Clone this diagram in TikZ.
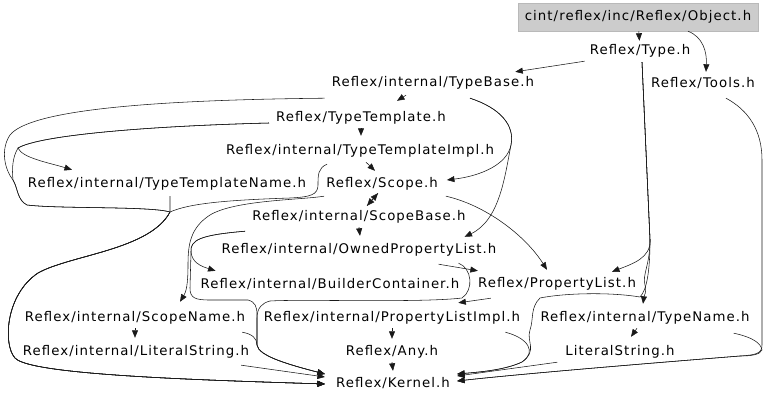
\documentclass[tikz,border=0pt]{standalone}
\usepackage{fontspec}
\setmainfont{DejaVu Sans}[LetterSpace=8]
\usetikzlibrary{arrows.meta,calc}

\tikzset{
  file/.style={inner xsep=5pt, inner ysep=0pt, minimum height=20pt, font=\fontsize{13.3}{16}\selectfont},
  root/.style={file, fill=gray!40, draw=gray!55, minimum height=28pt, inner xsep=7pt},
  dep/.style={->, line width=0.55pt, black!90},
}

\begin{document}
\begin{tikzpicture}[x=1pt, y=-1pt, >={Triangle[length=7.5pt,width=6pt]}]
\useasboundingbox (0,0) rectangle (768,401);
% files, one rank per row
\node[root] (obj) at (638,17) {cint/reflex/inc/Reflex/Object.h};
\node[file] (type) at (640,51) {Reflex/Type.h};
\node[file] (typebase) at (433,83) {Reflex/internal/TypeBase.h};
\node[file] (tools) at (703,83) {Reflex/Tools.h};
\node[file] (ttemplate) at (361,118) {Reflex/TypeTemplate.h};
\node[file] (ttimpl) at (360,151) {Reflex/internal/TypeTemplateImpl.h};
\node[file] (ttname) at (167,184) {Reflex/internal/TypeTemplateName.h};
\node[file] (scope) at (382,184) {Reflex/Scope.h};
\node[file] (scopebase) at (359,217) {Reflex/internal/ScopeBase.h};
\node[file] (ownedpl) at (359,250) {Reflex/internal/OwnedPropertyList.h};
\node[file] (builder) at (330,284) {Reflex/internal/BuilderContainer.h};
\node[file] (proplist) at (557,284) {Reflex/PropertyList.h};
\node[file] (scopename) at (135,318) {Reflex/internal/ScopeName.h};
\node[file] (plimpl) at (392,318) {Reflex/internal/PropertyListImpl.h};
\node[file] (typename) at (645,318) {Reflex/internal/TypeName.h};
\node[file] (litstrint) at (136,352) {Reflex/internal/LiteralString.h};
\node[file] (any) at (392,352) {Reflex/Any.h};
\node[file] (litstr) at (620,352) {LiteralString.h};
\node[file] (kernel) at (393,383) {Reflex/Kernel.h};

% short ones
\draw[dep] (obj) -- (type);
\draw[dep] ($(obj.south)+(50,0)$) .. controls (703,37) and (707,52) .. ($(tools.north)+(3,-1)$);
\draw[dep] (type.south west) -- ($(typebase.north east)+(-24,-1)$);
\draw[dep] ($(typebase.south)+(-27,2)$) -- ($(ttemplate.north)+(36,-7)$);
\draw[dep] (ttemplate.south) -- ($(ttimpl.north)+(1,-5)$);
\draw[dep] ($(ttimpl.south)+(6,1)$) -- ($(scope.north)+(-7,-3)$);
\draw[dep] ($(scope.south)+(-4,-1)$) -- ($(scopebase.north)+(8,-1)$);
\draw[dep] ($(scopebase.north)+(8,-1)$) -- ($(scope.south)+(-4,-1)$);
\draw[dep] (scopebase.south) -- ($(ownedpl.north)+(1,-4)$);
\draw[dep] (plimpl.south) -- ($(any.north)+(0,-3)$);
\draw[dep] (any.south) -- ($(kernel.north)+(0,-2)$);
\draw[dep] (scopename.south) -- ($(litstrint.north)+(-1,-4)$);
\draw[dep] ($(typename.south)+(-8,0)$) -- ($(litstr.north)+(11,-5)$);
\draw[dep] ($(ownedpl.south east)+(-63,4)$) -- ($(proplist.north west)+(5,-3)$);
\draw[dep] ($(proplist.south west)+(18,4)$) -- ($(plimpl.north east)+(-67,-5)$);

% down the right side
\draw[dep] ($(type.south)+(2,1)$) -- (650,240) .. controls (651,258) and (632,264) .. ($(proplist.north)+(55,-2)$);
\draw[dep] ($(type.south)+(2,1)$) -- (650,240) .. controls (650,265) and (642,275) .. (645,285) .. controls (647,292) and (644,296) .. ($(typename.north)+(-2,-4)$);
\draw[dep] ($(type.south)+(2,1)$) -- (650,240) .. controls (650,270) and (647,290) .. (640,297) .. controls (610,292) and (565,293) .. (540,298) .. controls (530,308) and (534,318) .. (530,330) .. controls (526,342) and (538,350) .. (522,362) .. controls (505,370) and (480,372) .. ($(kernel.east)+(2,-9)$);
\draw[dep] ($(tools.south)+(23,5)$) .. controls (748,110) and (762,130) .. (762,160) -- (762,345) .. controls (762,353) and (757,355) .. (740,356) .. controls (640,364) and (520,374) .. ($(kernel.east)+(2,-2)$);
\draw[dep] ($(typename.south east)+(-21,5)$) .. controls (752,337) and (761,343) .. (762,350) .. controls (760,355) and (750,356) .. (740,356) .. controls (640,364) and (520,374) .. ($(kernel.east)+(2,-2)$);
\draw[dep] ($(litstr.south west)+(-3,0)$) -- ($(kernel.east)+(2,-7)$);
\draw[dep] ($(plimpl.south east)+(-20,4)$) .. controls (528,338) and (537,352) .. (522,362) .. controls (505,370) and (480,372) .. ($(kernel.east)+(2,-9)$);

% middle
\draw[dep] ($(typebase.south)+(37,5)$) .. controls (500,108) and (515,125) .. (511,145) .. controls (507,165) and (480,176) .. ($(scope.east)+(4,-4)$);
\draw[dep] ($(typebase.south)+(37,5)$) .. controls (500,108) and (515,125) .. (511,145) .. controls (505,175) and (500,220) .. ($(ownedpl.north east)+(-37,-3)$);
\draw[dep] ($(scope.south east)+(3,2)$) .. controls (485,205) and (525,235) .. ($(proplist.north)+(-10,-4)$);
\draw[dep] ($(scope.south west)+(3,2)$) .. controls (300,200) and (235,200) .. (210,215) .. controls (190,228) and (188,245) .. (188,265) .. controls (188,285) and (186,292) .. ($(scopename.north)+(45,-6)$);
\draw[dep] ($(scopebase.south west)+(-2,4)$) .. controls (200,235) and (190,240) .. (191,252) .. controls (192,262) and (200,266) .. ($(builder.north west)+(20,-3)$);
\draw[dep] ($(scopebase.south west)+(-2,4)$) .. controls (200,235) and (190,240) .. (191,252) -- (190,288) .. controls (190,298) and (195,300) .. (210,300) -- (248,300) .. controls (255,302) and (257,306) .. (257,315) -- (257,345) .. controls (258,356) and (290,365) .. ($(kernel.west)+(-6,-9)$);
\draw[dep] ($(ownedpl.south east)+(-43,3)$) .. controls (472,268) and (474,290) .. (462,298) .. controls (420,303) and (300,299) .. (270,301) .. controls (262,303) and (257,308) .. (257,318) -- (257,345) .. controls (258,356) and (290,365) .. ($(kernel.west)+(-6,-9)$);
\draw[dep] ($(scopename.south east)+(-8,4)$) .. controls (252,334) and (257,338) .. (257,345) .. controls (258,356) and (290,365) .. ($(kernel.west)+(-6,-9)$);
\draw[dep] ($(litstrint.south east)+(-13,3)$) -- ($(kernel.west)+(-6,-6)$);

% round the left side
\draw[dep] ($(ttemplate.west)+(-2,5)$) .. controls (150,126) and (40,135) .. (18,148) .. controls (22,158) and (50,163) .. ($(ttname.north)+(-95,-4)$);
\draw[dep] ($(typebase.south west)+(-2,5)$) .. controls (150,100) and (30,110) .. (10,135) .. controls (0,150) and (5,170) .. (13,180) .. controls (18,188) and (17,200) .. (27,205) .. controls (60,209) and (150,206) .. (170,212) .. controls (150,250) and (70,255) .. (38,273) .. controls (5,295) and (3,345) .. (15,358) .. controls (30,375) and (200,380) .. ($(kernel.west)+(-6,1)$);
\draw[dep] ($(ttemplate.west)+(-2,5)$) .. controls (150,126) and (40,135) .. (18,148) .. controls (12,158) and (12,170) .. (13,180) .. controls (18,188) and (17,200) .. (27,205) .. controls (60,209) and (150,206) .. (170,212) .. controls (150,250) and (70,255) .. (38,273) .. controls (5,295) and (3,345) .. (15,358) .. controls (30,375) and (200,380) .. ($(kernel.west)+(-6,1)$);
\draw[dep] ($(ttname.south)+(3,2)$) -- (170,212) .. controls (150,250) and (70,255) .. (38,273) .. controls (5,295) and (3,345) .. (15,358) .. controls (30,375) and (200,380) .. ($(kernel.west)+(-6,1)$);
\draw[dep] ($(ttimpl.south)+(-33,3)$) .. controls (318,168) and (318,175) .. (318,185) .. controls (318,195) and (310,197) .. (290,198) .. controls (230,200) and (190,203) .. (170,212) .. controls (150,250) and (70,255) .. (38,273) .. controls (5,295) and (3,345) .. (15,358) .. controls (30,375) and (200,380) .. ($(kernel.west)+(-6,1)$);
\end{tikzpicture}
\end{document}
